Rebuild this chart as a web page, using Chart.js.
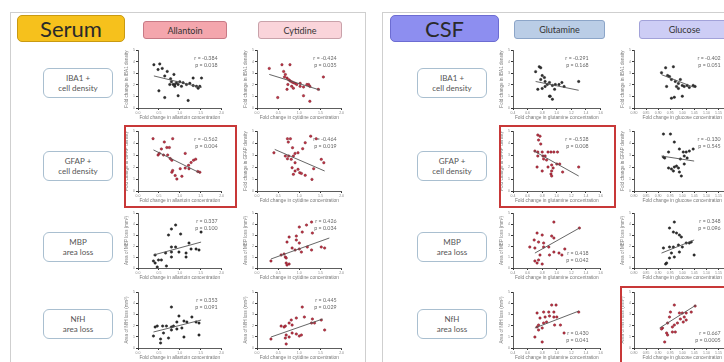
<!DOCTYPE html>
<html lang="en">
<head>
<meta charset="UTF-8">
<title>Serum / CSF metabolite correlations</title>
<style>
    body {
        margin: 0;
        width: 724px;
        height: 362px;
        overflow: hidden;
        position: relative;
        background: #fff;
        font-family: Lato, "Open Sans", sans-serif;
    }
    .panel {
        position: absolute;
        border: 1px solid #cfcfcf;
        background: #fff;
    }
    .head {
        position: absolute;
        box-sizing: border-box;
        display: flex;
        align-items: center;
        justify-content: center;
        color: #2a2a2a;
        border-radius: 5px;
    }
    .big { font-size: 22px; height: 27px; border: 1px solid; }
    .small { font-size: 9px; height: 18px; border: 1.5px solid; border-radius: 3px; color: #333; }
    .rowlabel {
        position: absolute;
        box-sizing: border-box;
        width: 70px;
        height: 30px;
        border: 1.5px solid #a9bfd0;
        border-radius: 6px;
        font-size: 8px;
        line-height: 10px;
        color: #555;
        text-align: center;
        display: flex;
        flex-direction: column;
        justify-content: center;
    }
    .hilite {
        position: absolute;
        box-sizing: border-box;
        border: 2px solid #c83838;
    }
    canvas { position: absolute; }
</style>
</head>
<body>
<div class="panel" style="left:10px; top:12px; width:354px; height:370px;"></div>
<div class="panel" style="left:382px; top:12px; width:360px; height:370px;"></div>

<div class="head big" style="left:17px; top:15px; width:108px; background:#f6c11c; border-color:#c99a12;">Serum</div>
<div class="head big" style="left:390px; top:15px; width:109px; background:#8d8ef0; border-color:#6c6cd2;">CSF</div>
<div class="head small" style="left:143px; top:21px; width:84px; background:#f4a6ad; border-color:#c77a86;">Allantoin</div>
<div class="head small" style="left:258px; top:21px; width:84px; background:#fad4da; border-color:#c9a2aa;">Cytidine</div>
<div class="head small" style="left:514px; top:20px; width:91px; height:19px; background:#bacde6; border-color:#8ca5c8;">Glutamine</div>
<div class="head small" style="left:639px; top:20px; width:91px; height:19px; background:#cdcdf5; border-color:#a2a2d9;">Glucose</div>

<div id="labels"></div>
<div id="plots"></div>

<script src="https://cdn.jsdelivr.net/npm/chart.js"></script>
<script>
    // row / column names
    const rowNames = [['IBA1 +', 'cell density'], ['GFAP +', 'cell density'], ['MBP', 'area loss'], ['NfH', 'area loss']];
    const yTitles = ['Fold change in IBA1 density', 'Fold change in GFAP density', 'Area of MBP loss (mm²)', 'Area of NfH loss (mm²)'];
    const metabolites = ['Allantoin', 'Cytidine', 'Glutamine', 'Glucose'];

    // x axis ticks per metabolite column
    const xMin = [0, 0, 0.4, 0.80];
    const xMax = [2, 2, 1.6, 1.20];
    const xStep = [0.5, 0.5, 0.2, 0.05];
    const xDigits = [1, 1, 1, 2];
    const yMax = 5;

    // Pearson r and p (rows: IBA1, GFAP, MBP, NfH; cols: allantoin, cytidine, glutamine, glucose)
    const rValues = [
        [-0.384, -0.424, -0.291, -0.402],
        [-0.562, -0.464, -0.528, -0.130],
        [0.337, 0.426, 0.418, 0.348],
        [0.353, 0.445, 0.430, 0.667]
    ];
    const pValues = [
        ['0.018', '0.035', '0.168', '0.051'],
        ['0.004', '0.019', '0.008', '0.545'],
        ['0.100', '0.034', '0.042', '0.096'],
        ['0.091', '0.029', '0.041', '0.0005']
    ];

    // IBA1
    const allantoinIba1X = [0.38, 0.52, 0.58, 0.48, 0.70, 0.64, 0.86, 0.78, 0.80, 0.84, 0.88, 0.92, 0.96, 1.00, 1.08, 1.16, 1.24, 1.32, 1.40, 1.44, 1.48, 1.52, 1.32, 0.50, 0.64, 0.96, 1.20, 0.88, 0.76, 1.04];
    const allantoinIba1Y = [3.74, 3.81, 3.42, 3.32, 3.16, 2.77, 2.90, 2.52, 2.26, 2.03, 2.03, 2.19, 2.03, 2.26, 2.19, 2.03, 2.13, 1.94, 1.87, 1.71, 1.87, 2.58, 2.58, 1.48, 0.90, 1.06, 0.65, 1.87, 2.03, 1.87];
    const cytidineIba1X = [0.29, 0.59, 0.78, 0.63, 0.67, 0.65, 0.71, 0.75, 0.78, 0.82, 0.86, 0.90, 0.94, 1.02, 1.10, 1.22, 1.25, 1.45, 1.57, 0.49, 0.71, 1.10, 1.25, 0.82, 0.73, 0.86, 1.02, 1.18];
    const cytidineIba1Y = [3.42, 3.74, 3.74, 3.16, 2.90, 2.68, 2.58, 2.45, 2.35, 2.26, 2.19, 2.13, 2.03, 1.87, 1.81, 2.03, 1.87, 1.61, 2.68, 0.90, 1.61, 1.06, 0.58, 1.87, 2.03, 1.71, 2.13, 2.03];
    const glutamineIba1X = [0.71, 0.76, 0.78, 0.80, 0.83, 0.84, 0.78, 0.74, 0.80, 0.87, 0.90, 0.94, 0.98, 1.03, 1.07, 1.10, 0.97, 1.30, 0.90, 0.94, 0.91, 0.84];
    const glutamineIba1Y = [3.14, 3.56, 3.47, 2.80, 2.63, 2.29, 2.46, 1.61, 1.69, 2.03, 2.20, 1.95, 2.03, 2.03, 2.20, 1.86, 1.61, 2.29, 1.02, 0.76, 1.02, 1.86];
    const glucoseIba1X = [0.914, 0.931, 0.939, 0.947, 0.963, 0.955, 0.971, 0.984, 0.992, 1.000, 1.008, 1.020, 1.029, 1.045, 1.053, 0.984, 0.955, 0.967, 1.000, 0.935, 0.976];
    const glucoseIba1Y = [3.05, 3.47, 2.80, 2.71, 3.56, 2.46, 2.29, 2.12, 2.46, 1.95, 1.86, 1.95, 1.78, 1.95, 1.86, 1.69, 0.85, 0.93, 1.02, 1.86, 1.86];

    // GFAP
    const allantoinGfapX = [0.36, 0.63, 0.69, 0.75, 0.83, 0.56, 0.51, 0.48, 0.61, 0.71, 0.77, 0.81, 1.13, 1.33, 1.38, 1.21, 1.27, 1.13, 1.22, 1.43, 1.48, 0.83, 0.81, 0.89, 0.93, 1.05, 1.01];
    const allantoinGfapY = [4.37, 4.09, 3.63, 3.63, 4.37, 3.51, 3.14, 3.00, 3.00, 3.00, 2.71, 2.57, 3.14, 2.57, 2.66, 2.14, 2.37, 1.91, 1.86, 1.63, 1.57, 1.71, 1.57, 1.29, 1.00, 1.23, 1.86];
    const cytidineGfapX = [0.40, 0.72, 0.79, 0.74, 0.84, 0.90, 0.75, 0.67, 0.81, 0.72, 0.86, 0.97, 1.08, 1.27, 1.40, 1.14, 0.83, 0.90, 0.86, 0.97, 1.01, 1.05, 1.14, 1.30, 1.34, 1.52, 1.58, 0.90];
    const cytidineGfapY = [3.19, 4.36, 4.36, 4.08, 3.61, 3.14, 2.92, 2.92, 2.64, 2.69, 2.92, 3.19, 3.53, 4.58, 4.36, 4.03, 1.94, 1.67, 1.39, 1.81, 1.53, 1.47, 1.31, 0.97, 1.86, 2.64, 2.36, 2.36];
    const glutamineGfapX = [0.74, 0.77, 0.75, 0.78, 0.70, 0.74, 0.80, 0.81, 0.84, 0.82, 0.86, 0.88, 0.92, 0.96, 1.01, 0.74, 0.93, 1.00, 1.04, 0.95, 0.93, 0.92, 0.93, 1.08, 0.73, 0.80, 1.30, 0.88];
    const glutamineGfapY = [4.67, 4.58, 4.25, 3.92, 3.33, 3.25, 3.25, 2.92, 2.92, 2.67, 2.58, 3.25, 3.25, 3.25, 3.25, 2.92, 2.17, 2.25, 2.25, 1.92, 1.67, 1.42, 1.25, 1.58, 2.00, 1.67, 2.00, 2.00];
    const glucoseGfapX = [0.922, 0.951, 0.967, 0.988, 1.004, 1.016, 1.029, 1.045, 1.008, 0.992, 0.922, 0.927, 0.943, 0.955, 0.963, 0.967, 0.976, 0.984, 0.988, 0.996, 1.008, 0.943, 1.020];
    const glucoseGfapY = [4.75, 4.75, 4.08, 3.50, 3.25, 3.25, 3.33, 3.50, 2.92, 2.67, 2.83, 2.75, 3.25, 1.83, 1.67, 2.00, 2.08, 1.92, 1.58, 1.25, 2.25, 1.92, 2.75];

    // MBP
    const allantoinMbpX = [0.37, 0.41, 0.49, 0.46, 0.56, 0.68, 0.80, 0.80, 0.90, 0.98, 1.15, 1.15, 1.27, 1.39, 1.46, 1.22, 0.80, 0.66, 0.90, 0.80, 0.73, 1.02, 1.51, 0.41];
    const allantoinMbpY = [0.64, 1.18, 0.73, 0.09, 0.73, 0.18, 1.00, 1.91, 1.91, 1.45, 1.36, 1.00, 1.73, 1.73, 1.64, 2.27, 1.45, 1.36, 3.91, 3.55, 3.00, 3.09, 3.27, 0.45];
    const cytidineMbpX = [0.33, 0.64, 0.57, 0.67, 0.69, 0.69, 0.76, 0.71, 0.83, 0.90, 1.00, 1.05, 1.19, 1.29, 1.52, 1.60, 0.71, 0.93, 1.00, 1.00, 1.17, 1.29, 1.31, 1.07, 0.93, 0.76];
    const cytidineMbpY = [0.64, 1.27, 1.18, 1.00, 0.91, 0.45, 0.36, 0.27, 1.82, 1.64, 1.73, 1.45, 1.91, 1.64, 1.91, 1.82, 2.36, 2.55, 2.27, 3.73, 3.91, 4.18, 3.18, 3.27, 2.91, 2.82];
    const glutamineMbpX = [0.96, 0.73, 0.80, 0.93, 0.96, 1.31, 0.69, 0.75, 0.82, 0.70, 0.77, 0.75, 0.70, 0.73, 0.80, 0.90, 0.96, 1.03, 1.07, 1.11, 0.89, 0.63, 0.82];
    const glutamineMbpY = [4.18, 3.18, 3.00, 2.91, 2.73, 3.64, 2.55, 2.36, 1.91, 1.82, 1.18, 0.73, 0.64, 0.45, 0.36, 1.18, 1.45, 1.36, 1.18, 1.73, 1.91, 1.91, 2.27];
    const glucoseMbpX = [0.967, 0.947, 0.963, 0.976, 0.988, 0.996, 0.922, 0.947, 0.963, 0.984, 1.000, 1.016, 1.029, 0.988, 0.955, 0.967, 0.947, 0.931, 0.935, 1.049, 1.037];
    const glucoseMbpY = [4.18, 3.64, 3.27, 3.18, 3.00, 2.82, 1.82, 1.91, 1.91, 2.09, 1.91, 2.27, 2.27, 1.45, 1.36, 1.00, 0.91, 0.36, 0.45, 1.18, 2.36];

    // NfH
    const allantoinNfhX = [0.80, 0.41, 0.46, 0.59, 0.68, 0.80, 0.85, 0.93, 0.98, 1.10, 0.80, 0.93, 1.17, 1.39, 1.46, 1.29, 0.37, 0.54, 0.54, 0.73, 1.10, 1.46, 0.61, 1.05];
    const allantoinNfhY = [3.66, 1.88, 1.96, 1.96, 1.96, 1.88, 1.96, 2.32, 2.86, 2.41, 1.61, 1.70, 2.32, 2.32, 2.23, 2.77, 1.07, 0.80, 0.45, 0.89, 0.98, 1.16, 1.34, 1.79];
    const cytidineNfhX = [1.07, 0.81, 0.76, 0.67, 0.83, 0.93, 1.12, 1.31, 1.29, 1.36, 1.52, 1.60, 0.33, 0.69, 0.76, 0.67, 0.83, 0.93, 1.00, 1.05, 0.69, 0.64, 0.57];
    const cytidineNfhY = [3.66, 2.50, 2.23, 1.96, 2.05, 2.68, 2.77, 2.59, 2.23, 2.23, 2.50, 1.61, 0.80, 1.16, 0.98, 0.89, 1.34, 1.25, 1.07, 1.16, 0.36, 1.88, 1.96];
    const glutamineNfhX = [0.93, 0.99, 0.96, 0.89, 0.82, 0.73, 0.77, 0.84, 0.90, 0.96, 1.00, 0.82, 0.75, 0.73, 0.80, 0.86, 0.97, 1.05, 1.10, 0.70, 0.80, 1.30, 0.75];
    const glutamineNfhY = [3.84, 3.84, 3.21, 3.21, 3.21, 3.13, 2.68, 2.77, 2.86, 2.77, 2.77, 2.23, 2.05, 1.88, 1.79, 2.32, 2.05, 2.05, 1.34, 0.98, 0.54, 3.21, 1.61];
    const glucoseNfhX = [0.967, 0.951, 0.947, 0.988, 1.000, 1.016, 1.037, 1.053, 1.008, 0.992, 0.980, 0.967, 0.959, 0.939, 0.918, 0.914, 0.935, 0.939, 0.959, 0.971, 0.927, 1.004, 1.016];
    const glucoseNfhY = [3.84, 3.21, 2.77, 3.13, 3.13, 3.13, 3.21, 3.75, 2.77, 2.59, 2.23, 2.05, 1.88, 2.23, 1.79, 1.70, 1.34, 1.16, 1.43, 1.43, 0.54, 2.32, 2.50];

    // regression line end points
    const fitX = [
        [[0.38, 1.52], [0.29, 1.49], [0.71, 1.30], [0.914, 1.049]],
        [[0.37, 1.48], [0.42, 1.60], [0.69, 1.30], [0.914, 1.049]],
        [[0.37, 1.51], [0.33, 1.71], [0.70, 1.31], [0.914, 1.049]],
        [[0.37, 1.51], [0.33, 1.55], [0.70, 1.30], [0.906, 1.057]]
    ];
    const fitY = [
        [[2.77, 1.77], [2.90, 1.55], [2.29, 1.53], [2.88, 1.78]],
        [[3.43, 1.51], [3.47, 1.67], [3.33, 1.25], [2.92, 2.50]],
        [[1.18, 2.36], [0.82, 2.73], [1.36, 3.64], [1.36, 2.55]],
        [[1.43, 2.50], [0.98, 2.59], [1.79, 3.30], [1.79, 3.84]]
    ];

    const pointsX = [
        [allantoinIba1X, cytidineIba1X, glutamineIba1X, glucoseIba1X],
        [allantoinGfapX, cytidineGfapX, glutamineGfapX, glucoseGfapX],
        [allantoinMbpX, cytidineMbpX, glutamineMbpX, glucoseMbpX],
        [allantoinNfhX, cytidineNfhX, glutamineNfhX, glucoseNfhX]
    ];
    const pointsY = [
        [allantoinIba1Y, cytidineIba1Y, glutamineIba1Y, glucoseIba1Y],
        [allantoinGfapY, cytidineGfapY, glutamineGfapY, glucoseGfapY],
        [allantoinMbpY, cytidineMbpY, glutamineMbpY, glucoseMbpY],
        [allantoinNfhY, cytidineNfhY, glutamineNfhY, glucoseNfhY]
    ];

    // plots drawn with red dots: [row, col]
    const redPlots = [[0, 1], [1, 0], [1, 1], [2, 1], [3, 1], [1, 2], [2, 2], [3, 2], [3, 3]];

    // layout of the grid (page pixels)
    const rowTop = [50, 131, 213, 292];
    const rowAxis = [108, 191, 268, 348];
    const colAxis = [138, 257, 513, 634];
    const colEnd = [222, 342, 601, 732];
    const statRight = [4, 5, 12, 10];
    const labelLeft = [43, 417];
    const labelTop = [68, 151, 232, 309];
    const statsAtBottom = [[2, 2], [3, 2], [3, 3]];
    const highlighted = [[1, 0], [1, 2], [3, 3]];

    const Y_AXIS_W = 14, X_AXIS_H = 13, PAD_T = 3, PAD_R = 3;

    // r / p text inside each plot
    const statsText = {
        id: 'statsText',
        afterDraw(chart, args, opts) {
            const { ctx, chartArea } = chart;
            ctx.save();
            ctx.font = '5.3px Lato, sans-serif';
            ctx.fillStyle = '#666';
            ctx.textAlign = 'right';
            ctx.textBaseline = 'middle';
            const x = chartArea.right - opts.right;
            const y1 = opts.bottom ? chartArea.bottom - 15 : chartArea.top + 8;
            ctx.fillText(opts.lines[0], x, y1);
            ctx.fillText(opts.lines[1], x, y1 + 7.5);
            ctx.restore();
        }
    };

    const labelHost = document.getElementById('labels');
    labelLeft.forEach(left => {
        rowNames.forEach((name, r) => {
            const div = document.createElement('div');
            div.className = 'rowlabel';
            div.style.left = left + 'px';
            div.style.top = labelTop[r] + 'px';
            div.innerHTML = '<span>' + name[0] + '</span><span>' + name[1] + '</span>';
            labelHost.appendChild(div);
        });
    });

    const plotHost = document.getElementById('plots');

    for (let r = 0; r < 4; r++) {
        for (let c = 0; c < 4; c++) {
            const canvas = document.createElement('canvas');
            const w = colEnd[c] - colAxis[c] + Y_AXIS_W + PAD_R;
            const h = rowAxis[r] - rowTop[r] + PAD_T + X_AXIS_H;
            canvas.width = w;
            canvas.height = h;
            canvas.style.left = (colAxis[c] - Y_AXIS_W) + 'px';
            canvas.style.top = (rowTop[r] - PAD_T) + 'px';
            plotHost.appendChild(canvas);

            const red = redPlots.some(s => s[0] === r && s[1] === c);
            const pts = pointsX[r][c].map((x, i) => ({ x: x, y: pointsY[r][c][i] }));
            const line = fitX[r][c].map((x, i) => ({ x: x, y: fitY[r][c][i] }));
            const atBottom = statsAtBottom.some(s => s[0] === r && s[1] === c);

            new Chart(canvas, {
                type: 'scatter',
                data: {
                    datasets: [
                        {
                            data: line,
                            showLine: true,
                            borderColor: '#555',
                            borderWidth: 0.9,
                            pointRadius: 0
                        },
                        {
                            data: pts,
                            pointRadius: 1.25,
                            backgroundColor: red ? '#c03446' : '#303030',
                            borderColor: red ? '#6a1a24' : '#1a1a1a',
                            borderWidth: 0.4
                        }
                    ]
                },
                options: {
                    responsive: false,
                    animation: false,
                    events: [],
                    layout: { autoPadding: false, padding: { left: 0, top: PAD_T, right: PAD_R, bottom: 0 } },
                    plugins: {
                        legend: { display: false },
                        tooltip: { enabled: false },
                        statsText: {
                            lines: ['r = ' + rValues[r][c].toFixed(3), 'p = ' + pValues[r][c]],
                            bottom: atBottom,
                            right: statRight[c]
                        }
                    },
                    scales: {
                        x: {
                            min: xMin[c],
                            max: xMax[c],
                            afterFit: s => { s.height = X_AXIS_H; },
                            border: { display: true, color: '#333', width: 0.8 },
                            grid: { drawOnChartArea: false, drawTicks: true, tickLength: 2, color: '#333' },
                            ticks: {
                                stepSize: xStep[c],
                                autoSkip: false,
                                maxRotation: 0,
                                padding: 1,
                                color: '#888',
                                font: { size: 3.5 },
                                callback: v => Number(v).toFixed(xDigits[c])
                            },
                            title: {
                                display: true,
                                text: 'Fold change in ' + metabolites[c].toLowerCase() + ' concentration',
                                color: '#777',
                                font: { size: 4.8 },
                                padding: { top: 0, bottom: 0 }
                            }
                        },
                        y: {
                            min: 0,
                            max: yMax,
                            afterFit: s => { s.width = Y_AXIS_W; },
                            border: { display: true, color: '#333', width: 0.8 },
                            grid: { drawOnChartArea: false, drawTicks: true, tickLength: 2, color: '#333' },
                            ticks: {
                                stepSize: 1,
                                padding: 1,
                                color: '#888',
                                font: { size: 3.5 }
                            },
                            title: {
                                display: true,
                                text: yTitles[r],
                                color: '#777',
                                font: { size: 4.6 },
                                padding: { top: 0, bottom: 0 }
                            }
                        }
                    }
                },
                plugins: [statsText]
            });
        }
    }

    // red frames round the strongest correlations
    highlighted.forEach(([r, c]) => {
        const box = document.createElement('div');
        box.className = 'hilite';
        box.style.left = (colAxis[c] - 14) + 'px';
        box.style.top = (rowTop[r] - 6) + 'px';
        box.style.width = (colEnd[c] - colAxis[c] + 29) + 'px';
        box.style.height = (rowAxis[r] - rowTop[r] + 23) + 'px';
        plotHost.appendChild(box);
    });
</script>
</body>
</html>
